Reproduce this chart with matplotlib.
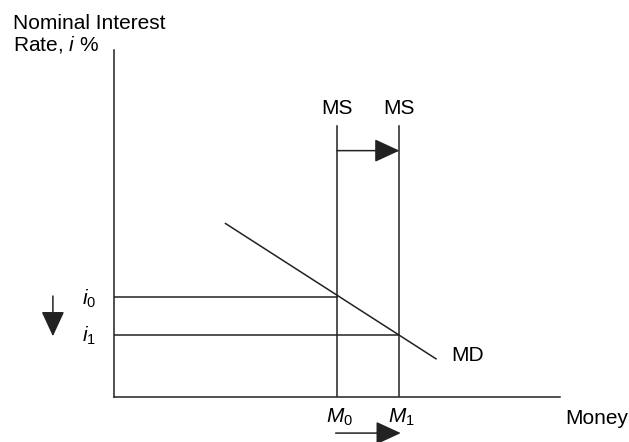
import matplotlib.pyplot as plt

plt.rcParams['font.family'] = ['Liberation Sans', 'DejaVu Sans']
plt.rcParams['mathtext.fontset'] = 'custom'
plt.rcParams['mathtext.it'] = 'Liberation Sans:italic'
plt.rcParams['mathtext.rm'] = 'Liberation Sans'

# schematic positions (axis units 0..100)
m_supply = [50, 64]          # M0, M1
m_labels = ['$M_0$', '$M_1$']
i_rates = [28.8, 18.0]       # i0, i1
i_labels = ['$i_0$', '$i_1$']
ms_top = 78
md_x = [25, 72.2]
md_y = [50, 11]

col = '#222222'
lw = 1.1
fs = 15

fig = plt.figure(figsize=(6.29, 4.42), dpi=100)
ax = fig.add_axes([114 / 629, 45 / 442, 446 / 629, 347 / 442])
ax.set_xlim(0, 100)
ax.set_ylim(0, 100)
for s in ['top', 'right']:
    ax.spines[s].set_visible(False)
for s in ['left', 'bottom']:
    ax.spines[s].set_color(col)
    ax.spines[s].set_linewidth(lw)
ax.set_xticks([])
ax.set_yticks([])

# money supply lines
for m in m_supply:
    ax.plot([m, m], [0, ms_top], color=col, lw=lw)
    ax.text(m, ms_top + 2.5, 'MS', ha='center', va='bottom', fontsize=fs)

# money demand
ax.plot(md_x, md_y, color=col, lw=lw)
ax.text(md_x[1] + 3.5, md_y[1] + 1, 'MD', ha='left', va='center', fontsize=fs)

# interest rate levels
for m, r, lab in zip(m_supply, i_rates, i_labels):
    ax.plot([0, m], [r, r], color=col, lw=lw)
    ax.text(-4, r - 0.5, lab, ha='right', va='center', fontsize=fs)

for m, lab in zip(m_supply, m_labels):
    ax.text(m + 0.5, -2.8, lab, ha='center', va='top', fontsize=fs)

ax.text(101.1, -3.5, 'Money', ha='left', va='top', fontsize=fs, clip_on=False)
ax.text(-22.6, 110.5, 'Nominal Interest\nRate, $i$ %', ha='left', va='top',
        fontsize=fs, linespacing=1.1, clip_on=False)

# arrows
arrow = dict(arrowstyle='-|>,head_length=1.3,head_width=0.6', color=col, lw=lw,
             shrinkA=0, shrinkB=0, mutation_scale=12)
ax.annotate('', xy=(m_supply[1], ms_top - 7), xytext=(m_supply[0], ms_top - 7),
            arrowprops=arrow, annotation_clip=False)
ax.annotate('', xy=(m_supply[1] + 0.3, -10.4), xytext=(m_supply[0] - 0.3, -10.4),
            arrowprops=arrow, annotation_clip=False)
ax.annotate('', xy=(-13.7, i_rates[1] - 0.5), xytext=(-13.7, i_rates[0] + 0.3),
            arrowprops=arrow, annotation_clip=False)

fig.savefig('out.png', dpi=100)
